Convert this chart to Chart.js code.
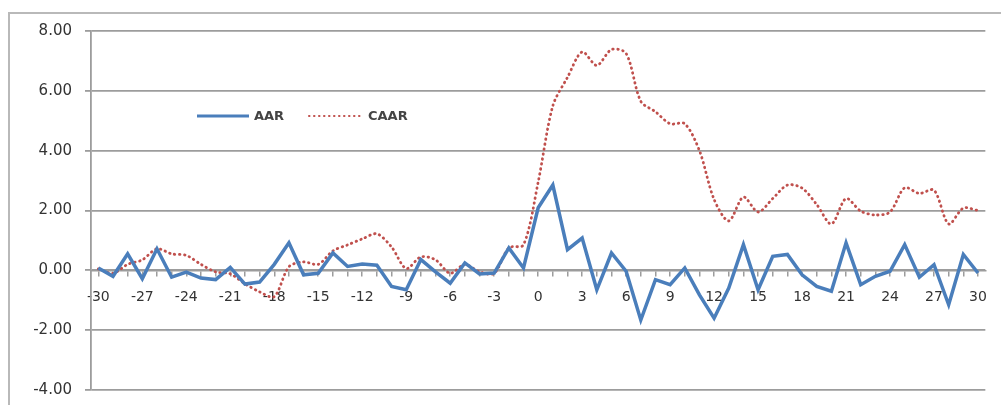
<!DOCTYPE html>
<html>
<head>
<meta charset="utf-8">
<script src="https://cdn.jsdelivr.net/npm/chart.js@4.4.0/dist/chart.umd.min.js"></script>
<style>
    html, body { margin: 0; padding: 0; background: #fff; overflow: hidden; height: 405px; }
    #frame {
        position: absolute; left: 8px; top: 12px; width: 1100px; height: 600px;
        border-left: 2px solid #b9b9b9; border-top: 2px solid #b9b9b9;
    }
    #wrap { position: absolute; left: 0; top: 0; width: 1001px; height: 412px; }
</style>
</head>
<body>
<div id="frame"></div>
<div id="wrap"><canvas id="chart"></canvas></div>
<script>
// event days
const days = ['-30','-29','-28','-27','-26','-25','-24','-23','-22','-21',
              '-20','-19','-18','-17','-16','-15','-14','-13','-12','-11',
              '-10','-9','-8','-7','-6','-5','-4','-3','-2','-1',
              '0','1','2','3','4','5','6','7','8','9',
              '10','11','12','13','14','15','16','17','18','19',
              '20','21','22','23','24','25','26','27','28','29','30'];

// labels shown on the axis
const shownTicks = ['-30','-27','-24','-21','-18','-15','-12','-9','-6','-3',
                    '0','3','6','9','12','15','18','21','24','27','30'];

const aar = [0.08, -0.2, 0.55, -0.28, 0.72, -0.23, -0.06, -0.26, -0.31, 0.1,
             -0.46, -0.39, 0.2, 0.92, -0.15, -0.1, 0.58, 0.13, 0.21, 0.17,
             -0.54, -0.65, 0.36, -0.05, -0.43, 0.25, -0.12, -0.09, 0.75, 0.08,
             2.09, 2.85, 0.69, 1.08, -0.65, 0.58, -0.03, -1.66, -0.31, -0.48,
             0.08, -0.82, -1.6, -0.59, 0.86, -0.65, 0.47, 0.53, -0.15, -0.54,
             -0.7, 0.92, -0.48, -0.2, -0.03, 0.86, -0.23, 0.19, -1.15, 0.53, -0.09];

const caar = [0.05, -0.1, 0.2, 0.35, 0.72, 0.55, 0.5, 0.2, -0.05, -0.12,
              -0.45, -0.72, -0.88, 0.12, 0.28, 0.2, 0.65, 0.85, 1.05, 1.22,
              0.78, 0.06, 0.45, 0.35, -0.1, 0.2, -0.05, -0.1, 0.75, 0.85,
              2.95, 5.5, 6.45, 7.3, 6.85, 7.38, 7.25, 5.65, 5.3, 4.9,
              4.9, 4.0, 2.37, 1.65, 2.45, 1.95, 2.4, 2.85, 2.75, 2.2,
              1.55, 2.4, 1.98, 1.85, 1.95, 2.76, 2.57, 2.68, 1.55, 2.08, 2.0];

const gridColor = '#9c9c9c';
const textColor = '#333';

// legend drawn inside the plot, like the original
const insideLegend = {
    id: 'insideLegend',
    afterDraw(chart) {
        const ctx = chart.ctx;
        const area = chart.chartArea;
        const x0 = area.left + 106;
        const y0 = area.top + 85;
        ctx.save();
        ctx.lineWidth = 3;
        ctx.strokeStyle = '#4a7ebb';
        ctx.beginPath();
        ctx.moveTo(x0, y0);
        ctx.lineTo(x0 + 52, y0);
        ctx.stroke();

        ctx.font = 'bold 13px "DejaVu Sans"';
        ctx.fillStyle = '#444';
        ctx.textBaseline = 'middle';
        ctx.fillText('AAR', x0 + 57, y0 + 1);

        ctx.lineWidth = 2;
        ctx.strokeStyle = '#c0504d';
        ctx.lineCap = 'round';
        ctx.setLineDash([0.5, 4.5]);
        ctx.beginPath();
        ctx.moveTo(x0 + 112, y0);
        ctx.lineTo(x0 + 166, y0);
        ctx.stroke();
        ctx.setLineDash([]);
        ctx.fillText('CAAR', x0 + 171, y0 + 1);
        ctx.restore();
    }
};

new Chart(document.getElementById('chart'), {
    type: 'line',
    data: {
        labels: days,
        datasets: [
            {
                label: 'AAR',
                data: aar,
                borderColor: '#4a7ebb',
                borderWidth: 3.5,
                pointRadius: 0,
                tension: 0,
                order: 1
            },
            {
                label: 'CAAR',
                data: caar,
                borderColor: '#c0504d',
                borderWidth: 2.8,
                borderDash: [0.5, 4.5],
                borderCapStyle: 'round',
                pointRadius: 0,
                tension: 0.3,
                order: 2
            }
        ]
    },
    options: {
        responsive: true,
        maintainAspectRatio: false,
        animation: false,
        layout: { padding: { left: 0, right: 11, top: 31, bottom: 9 } },
        plugins: {
            legend: { display: false },
            tooltip: { enabled: false }
        },
        scales: {
            x: {
                position: { y: 0 },
                offset: true,
                afterFit: function(scale) { scale.height = 0; },
                grid: {
                    drawOnChartArea: false,
                    drawTicks: true,
                    tickLength: 5,
                    color: gridColor,
                    lineWidth: 1.5
                },
                border: { display: true, color: gridColor, width: 1.5 },
                ticks: {
                    autoSkip: false,
                    maxRotation: 0,
                    padding: 14,
                    color: textColor,
                    font: { family: 'DejaVu Sans', size: 14 },
                    callback: function(value, index) {
                        const lbl = days[index];
                        return shownTicks.includes(lbl) ? lbl : '';
                    }
                }
            },
            y: {
                min: -4,
                max: 8,
                afterFit: function(scale) { scale.width = 91; },
                grid: {
                    color: gridColor,
                    lineWidth: 1.8,
                    drawTicks: true,
                    tickLength: 6
                },
                border: { display: true, color: gridColor, width: 1.8 },
                ticks: {
                    stepSize: 2,
                    padding: 13,
                    color: textColor,
                    font: { family: 'DejaVu Sans', size: 15 },
                    callback: function(value) { return value.toFixed(2); }
                }
            }
        }
    },
    plugins: [insideLegend]
});
</script>
</body>
</html>
